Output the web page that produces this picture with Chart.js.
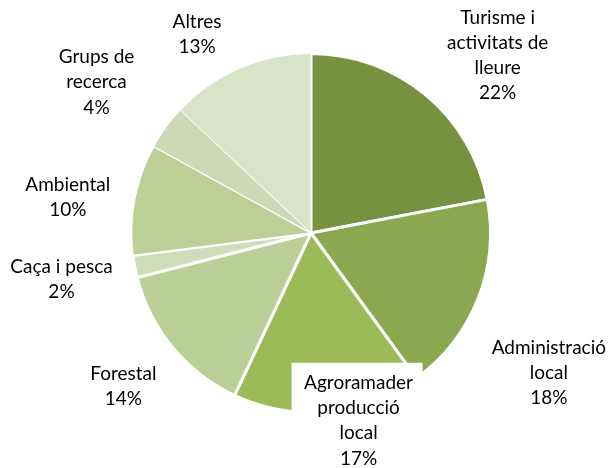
<!DOCTYPE html>
<html>
<head>
<meta charset="utf-8">
<script src="https://cdn.jsdelivr.net/npm/chart.js@4/dist/chart.umd.min.js"></script>
<style>
html,body{margin:0;padding:0;background:#fff;}
#wrap{width:610px;height:468px;position:relative;}
</style>
</head>
<body>
<div id="wrap"><canvas id="c" width="610" height="468"></canvas></div>
<script>
const categories = [
  ["Turisme i", "activitats de", "lleure"],
  ["Administració", "local"],
  ["Agroramader", "producció", "local"],
  ["Forestal"],
  ["Caça i pesca"],
  ["Ambiental"],
  ["Grups de", "recerca"],
  ["Altres"]
];
const values = [22, 18, 17, 14, 2, 10, 4, 13];
const percentLabels = ["22%", "18%", "17%", "14%", "2%", "10%", "4%", "13%"];
const colors = ["#769240", "#8BA750", "#9BBB59", "#BACF97", "#CFDCBA", "#BBCF97", "#CCD9B4", "#D9E3C8"];
const borderWidths = [3, 3, 3, 3, 3, 1.5, 1, 1];
// label anchor offsets relative to pie centre, in units of the outer radius
const labelOffsets = [
  [1.04, -0.99], [1.325, 0.78], [0.265, 1.045], [-1.045, 0.855],
  [-1.39, 0.26], [-1.355, -0.20], [-1.195, -0.84], [-0.635, -1.107]
];

const labelPlugin = {
  id: 'pieLabels',
  afterDatasetsDraw(chart) {
    const ctx = chart.ctx;
    const meta = chart.getDatasetMeta(0);
    ctx.save();
    ctx.font = '19px Lato';
    ctx.textAlign = 'center';
    ctx.textBaseline = 'middle';
    const lh = 25.2;
    meta.data.forEach((el, i) => {
      const r = el.outerRadius;
      const cx = el.x + labelOffsets[i][0] * r;
      const cy = el.y + labelOffsets[i][1] * r;
      const lines = categories[i].concat([percentLabels[i]]);
      const top = cy - (lines.length - 1) * lh / 2;
      if (i === 2) {
        ctx.fillStyle = '#ffffff';
        ctx.fillRect(cx - 67, top - 20, 131, 140);
      }
      ctx.fillStyle = '#000000';
      lines.forEach((t, k) => ctx.fillText(t, cx, top + k * lh));
    });
    ctx.restore();
  }
};

new Chart(document.getElementById('c'), {
  type: 'pie',
  data: {
    labels: categories.map(c => c.join(' ')),
    datasets: [{
      data: values,
      backgroundColor: colors,
      borderColor: '#ffffff',
      borderWidth: borderWidths
    }]
  },
  options: {
    responsive: false,
    animation: false,
    layout: { padding: { left: 130, right: 118, top: 52, bottom: 54 } },
    plugins: { legend: { display: false }, tooltip: { enabled: false } }
  },
  plugins: [labelPlugin]
});
</script>
</body>
</html>
